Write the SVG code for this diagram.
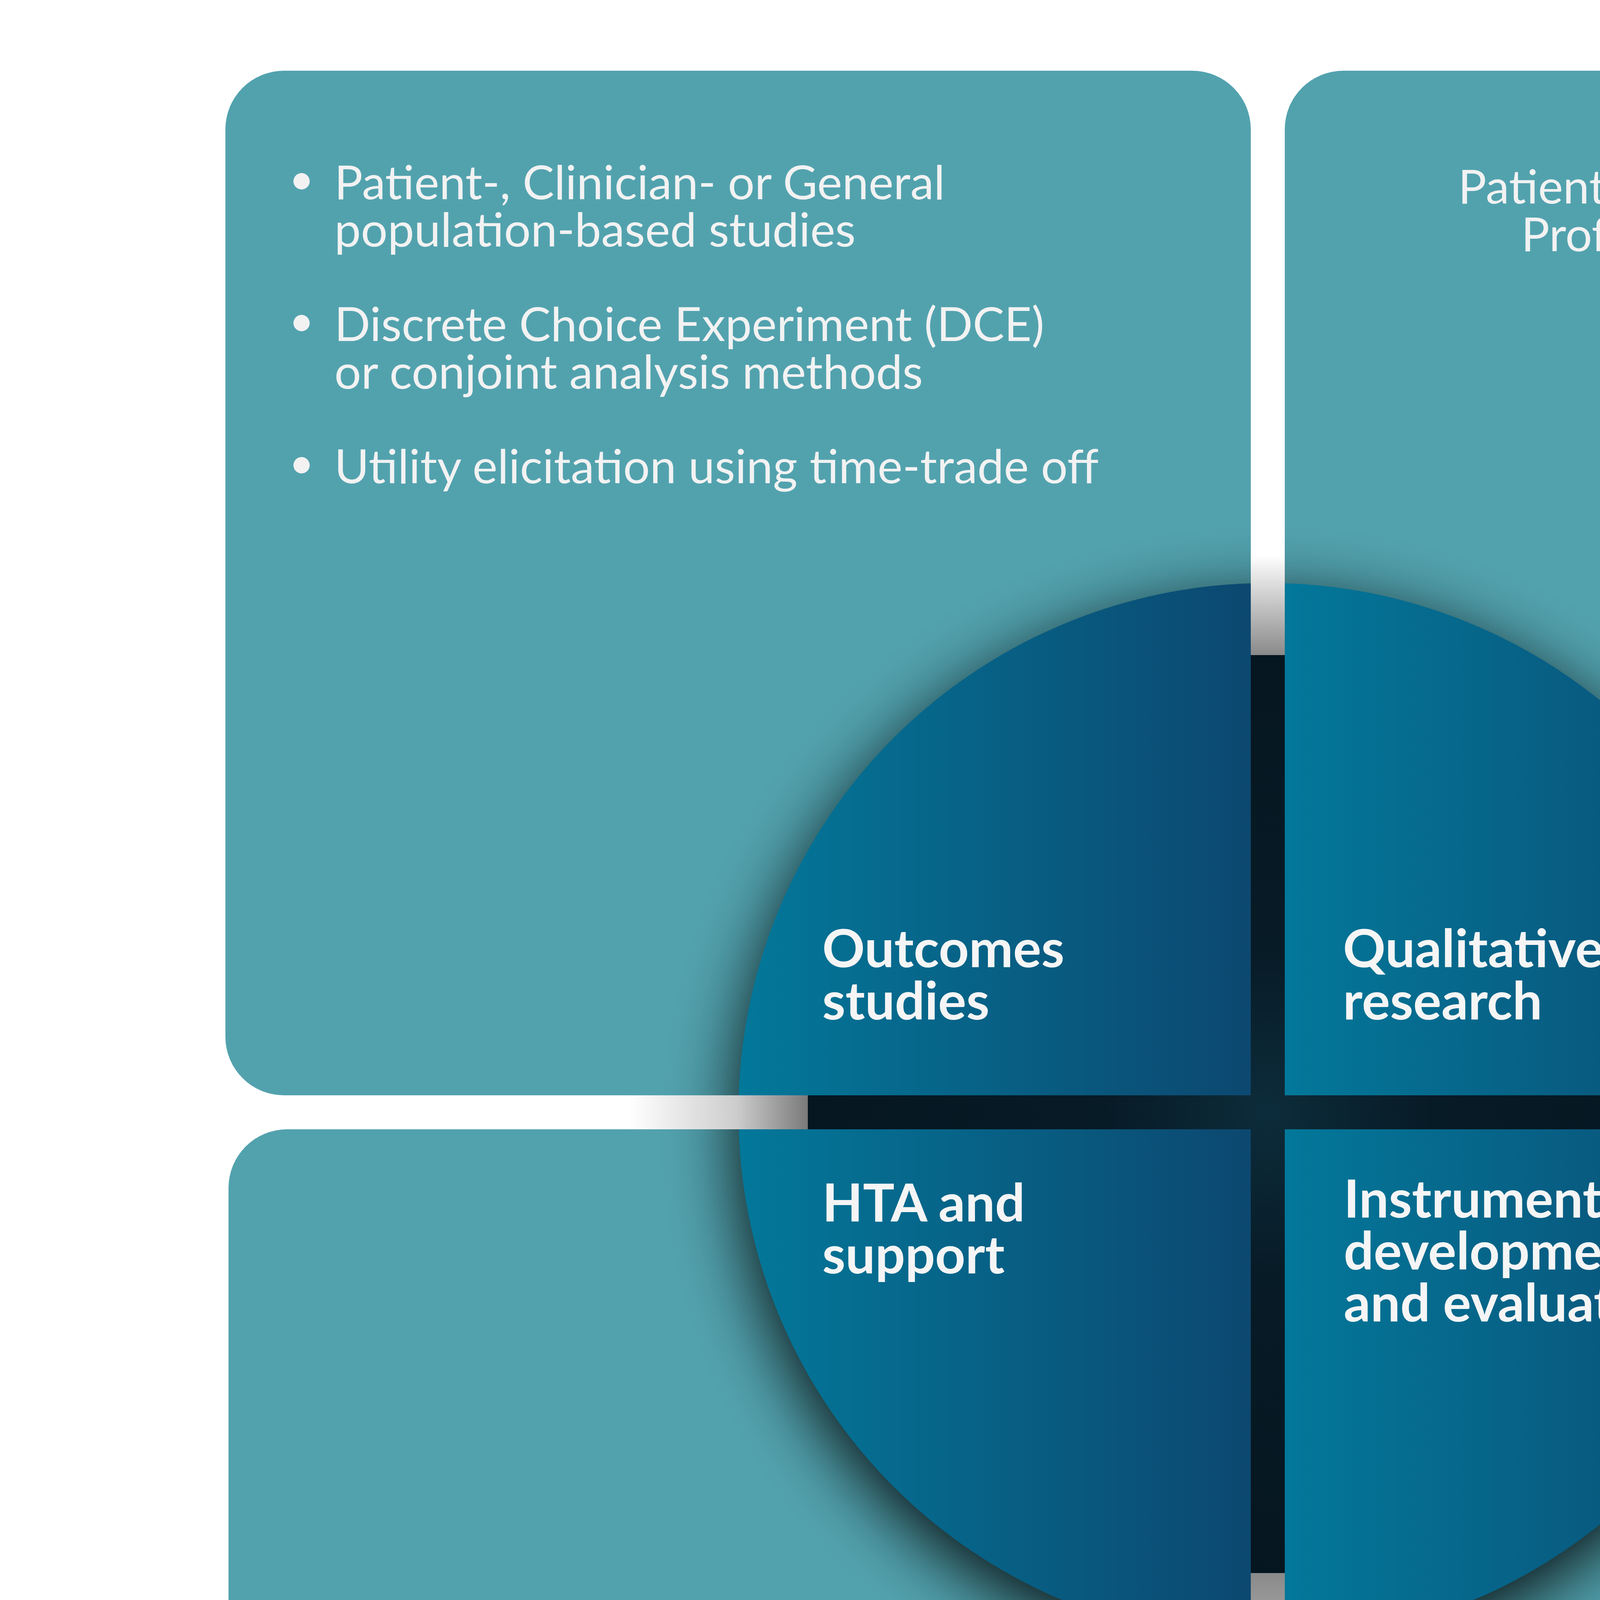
<svg xmlns="http://www.w3.org/2000/svg" width="6460" height="5687" viewBox="0 0 6460 5687">
<defs>
<style>
.box{fill:#52a2ae}
.t{font-family:Lato,"Noto Sans","Liberation Sans",sans-serif;font-size:121px;fill:#f2f2f2}
.r{text-anchor:end}
.bul{font-family:Lato,"Noto Sans","Liberation Sans",sans-serif;font-size:112px;fill:#f2f2f2;text-anchor:middle}
.lbl{font-family:Lato,"Noto Sans","Liberation Sans",sans-serif;font-weight:700;font-size:135px;fill:#f5f5f5}
.q{fill:url(#qg)}
.bar{fill:url(#cg)}
</style>
<linearGradient id="qg" x1="0" y1="0" x2="1" y2="0">
<stop offset="0" stop-color="#03789a"/>
<stop offset="1" stop-color="#0c4870"/>
</linearGradient>
<radialGradient id="cg" gradientUnits="userSpaceOnUse" cx="3245.5" cy="2847.5" r="1200">
<stop offset="0" stop-color="#0d2c3b"/>
<stop offset="0.35" stop-color="#071b26"/>
<stop offset="1" stop-color="#061620"/>
</radialGradient>
<linearGradient id="gTop" gradientUnits="userSpaceOnUse" x1="0" y1="1420" x2="0" y2="1677">
<stop offset="0" stop-color="#ffffff"/>
<stop offset="1" stop-color="#8a8a8a"/>
</linearGradient>
<linearGradient id="gBot" gradientUnits="userSpaceOnUse" x1="0" y1="4027" x2="0" y2="4420">
<stop offset="0" stop-color="#8a8a8a"/>
<stop offset="0.45" stop-color="#ababab"/>
<stop offset="1" stop-color="#f4f4f4"/>
</linearGradient>
<linearGradient id="gLeft" gradientUnits="userSpaceOnUse" x1="1610" y1="0" x2="2068" y2="0">
<stop offset="0" stop-color="#ffffff"/>
<stop offset="0.6" stop-color="#cdcdcd"/>
<stop offset="1" stop-color="#7a7a7a"/>
</linearGradient>
<linearGradient id="gRight" gradientUnits="userSpaceOnUse" x1="4417" y1="0" x2="4720" y2="0">
<stop offset="0" stop-color="#888888"/>
<stop offset="0.6" stop-color="#cfcfcf"/>
<stop offset="1" stop-color="#ffffff"/>
</linearGradient>
<filter id="sh" x="-20%" y="-20%" width="140%" height="140%">
<feGaussianBlur stdDeviation="90"/>
</filter>
</defs>
<rect width="6460" height="5687" fill="#ffffff"/>

<g id="box-outcomes">
<rect class="box" x="577" y="181" width="2625" height="2623" rx="150" ry="150"/>
<text class="bul" x="772" y="498">•</text>
<text class="t" x="856" y="510">Patient-, Clinician- or General</text>
<text class="t" x="856" y="631">population-based studies</text>
<text class="bul" x="772" y="861">•</text>
<text class="t" x="856" y="873">Discrete Choice Experiment (DCE)</text>
<text class="t" x="856" y="995">or conjoint analysis methods</text>
<text class="bul" x="772" y="1225">•</text>
<text class="t" x="856" y="1237">Utility elicitation using time-trade off</text>
</g>

<g id="box-qualitative">
<rect class="box" x="3289" y="181" width="2619" height="2623" rx="150" ry="150"/>
<text class="t r" x="5599" y="521">Patient-, Caregiver- and Healthcare</text>
<text class="bul" x="5689" y="509">•</text>
<text class="t r" x="5599" y="643">Professional in-depth interviews</text>
<text class="t r" x="5599" y="885">Cognitive debriefing</text>
<text class="bul" x="5689" y="873">•</text>
<text class="t r" x="5599" y="1129">Conceptual models</text>
<text class="bul" x="5689" y="1117">•</text>
</g>

<g id="box-hta">
<rect class="box" x="585" y="2891" width="2617" height="2622" rx="150" ry="150"/>
<text class="bul" x="779" y="4455">•</text>
<text class="t" x="865" y="4467">Generating evidence through</text>
<text class="t" x="865" y="4590">patient studies to support pricing</text>
<text class="t" x="865" y="4713">and reimbursement negotiations</text>
</g>

<g id="box-instrument">
<rect class="box" x="3289" y="2891" width="2619" height="2622" rx="150" ry="150"/>
<text class="t r" x="5599" y="4480">PROs, Clinical ReportedOutcomes</text>
<text class="bul" x="5690" y="4468">•</text>
<text class="t r" x="5599" y="4601">(ClinROs), and proxy measures</text>
<text class="t r" x="5599" y="4844">Reviewing and selecting appropriate</text>
<text class="bul" x="5690" y="4832">•</text>
<text class="t r" x="5599" y="4965">PRO/ClinRO instruments</text>
<text class="t r" x="5599" y="5207">Face and content validity evaluations</text>
<text class="bul" x="5690" y="5195">•</text>
</g>

<g id="hub">
<circle id="hub-shadow" cx="3245.5" cy="2897.5" r="1355" fill="#000000" opacity="0.9" filter="url(#sh)"/>
<rect x="3202" y="1300" width="87" height="377" fill="url(#gTop)"/>
<rect x="3202" y="4027" width="87" height="500" fill="url(#gBot)"/>
<rect x="1500" y="2804" width="568" height="87" fill="url(#gLeft)"/>
<rect x="4417" y="2804" width="500" height="87" fill="url(#gRight)"/>
<rect class="bar" x="3202" y="1677" width="87" height="2350"/>
<rect class="bar" x="2068" y="2804" width="2349" height="87"/>

<g id="seg-outcomes">
<path class="q" d="M3202,2804 V1493.2 A1355,1355 0 0 0 1891.2,2804 Z"/>
<text class="lbl" x="2105" y="2476">Outcomes</text>
<text class="lbl" x="2105" y="2610">studies</text>
</g>
<g id="seg-qualitative">
<path class="q" d="M3289,2804 V1493.2 A1355,1355 0 0 1 4599.8,2804 Z"/>
<text class="lbl" x="3438" y="2476">Qualitative</text>
<text class="lbl" x="3438" y="2610">research</text>
</g>
<g id="seg-hta">
<path class="q" d="M3202,2891 V4201.8 A1355,1355 0 0 1 1891.2,2891 Z"/>
<text class="lbl" x="2105" y="3127">HTA and</text>
<text class="lbl" x="2105" y="3260">support</text>
</g>
<g id="seg-instrument">
<path class="q" d="M3289,2891 V4201.8 A1355,1355 0 0 0 4599.8,2891 Z"/>
<text class="lbl" x="3440" y="3117">Instrument</text>
<text class="lbl" x="3440" y="3250">development</text>
<text class="lbl" x="3440" y="3383">and evaluation</text>
</g>
</g>
</svg>
